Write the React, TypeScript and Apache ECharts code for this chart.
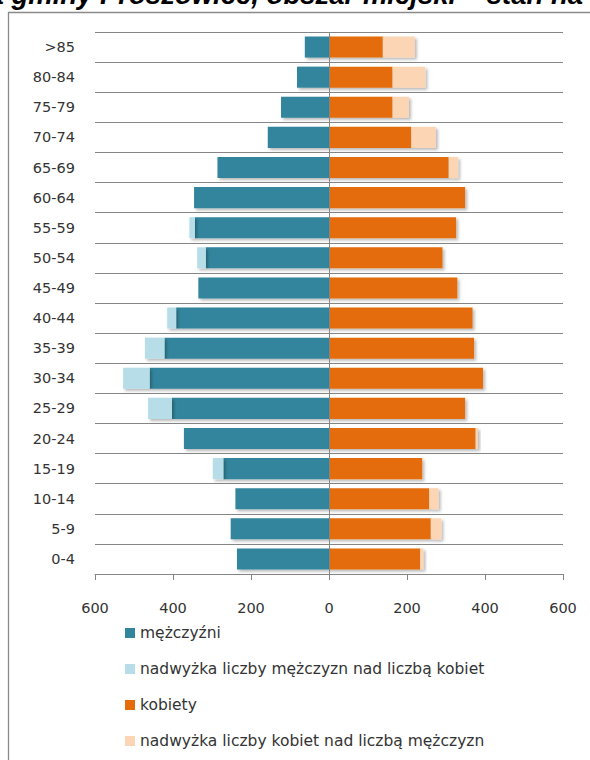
import React, { useEffect, useRef } from "react";
import * as echarts from "echarts";

const categories = ["0-4", "5-9", "10-14", "15-19", "20-24", "25-29", "30-34", "35-39", "40-44", "45-49", "50-54", "55-59", "60-64", "65-69", "70-74", "75-79", "80-84", ">85"];
const men = [236, 252, 240, 271, 372, 403, 460, 422, 392, 335, 316, 344, 346, 286, 157, 123, 82, 62];
const menExcess = [0, 0, 0, 27, 0, 61, 68, 50, 23, 0, 22, 14, 0, 0, 0, 0, 0, 0];
const women = [234, 261, 257, 239, 376, 349, 395, 372, 368, 329, 291, 326, 349, 307, 211, 163, 163, 138];
const womenExcess = [8, 27, 24, 0, 6, 0, 0, 0, 0, 0, 0, 0, 0, 24, 63, 42, 84, 82];
const seriesNames = [
  "mężczyźni",
  "nadwyżka liczby mężczyzn nad liczbą kobiet",
  "kobiety",
  "nadwyżka liczby kobiet nad liczbą mężczyzn",
];
const titleText = "a gminy Proszowice, obszar miejski – stan na";

const colors = ["#31859C", "#B7DEE8", "#E46C0A", "#FCD5B5"];
const FONT = "DejaVu Sans";

export default function App() {
  const ref = useRef<HTMLDivElement>(null);
  useEffect(() => {
    if (!ref.current) return;
    const chart = echarts.init(ref.current, null, { renderer: "svg" });
    const shadow = {
      shadowColor: "rgba(0,0,0,0.28)",
      shadowBlur: 3,
      shadowOffsetX: 2,
      shadowOffsetY: 2,
    };
    const mk = (name: string, data: number[], color: string, sign: number, extra: any = {}) => ({
      name,
      type: "bar",
      stack: "all",
      barCategoryGap: "30%",
      data: data.map((v) => sign * v),
      itemStyle: { color, ...shadow },
      ...extra,
    });
    chart.setOption({
      animation: false,
      color: colors,
      graphic: [
        {
          type: "rect",
          shape: { x: 8.5, y: 12.5, width: 640, height: 800 },
          style: { fill: "none", stroke: "#8a8a8a", lineWidth: 1.3 },
          silent: true,
        },
        {
          type: "text",
          x: 583,
          y: 8,
          style: {
            text: titleText,
            font: 'italic bold 27.5px "Liberation Sans"',
            fill: "#000",
            textAlign: "right",
            textVerticalAlign: "bottom",
          },
          silent: true,
        },
      ],
      legend: {
        orient: "vertical",
        left: 120,
        top: 620,
        itemWidth: 10,
        itemHeight: 10,
        itemGap: 20,
        icon: "rect",
        data: seriesNames,
        textStyle: { fontFamily: FONT, fontSize: 15.5, color: "#333" },
      },
      grid: { left: 95, right: 27, top: 32, bottom: 186, containLabel: false },
      xAxis: {
        type: "value",
        min: -600,
        max: 600,
        interval: 200,
        axisLine: { show: true, lineStyle: { color: "#868686" } },
        axisTick: { show: true, length: 6, lineStyle: { color: "#868686" } },
        splitLine: { show: false },
        axisLabel: {
          margin: 26,
          fontFamily: FONT,
          fontSize: 14.5,
          color: "#333",
          formatter: (v: number) => String(Math.abs(v)),
        },
      },
      yAxis: {
        type: "category",
        data: categories,
        axisLine: { show: false },
        axisTick: { show: false },
        splitLine: { show: true, interval: 0, lineStyle: { color: "#868686", width: 1 } },
        axisLabel: { margin: 20, fontFamily: FONT, fontSize: 14.5, color: "#333", interval: 0 },
      },
      series: [
        mk(seriesNames[0], men, colors[0], -1, {
          markLine: {
            silent: true,
            symbol: "none",
            label: { show: false },
            lineStyle: { color: "#868686", type: "solid", width: 1 },
            data: [{ xAxis: 0 }],
          },
        }),
        mk(seriesNames[1], menExcess, colors[1], -1),
        mk(seriesNames[2], women, colors[2], 1),
        mk(seriesNames[3], womenExcess, colors[3], 1),
      ],
    });
    return () => chart.dispose();
  }, []);
  return (
    <div
      ref={ref}
      style={{ position: "absolute", left: 0, top: 0, width: 590, height: 760, background: "#fff" }}
    />
  );
}
